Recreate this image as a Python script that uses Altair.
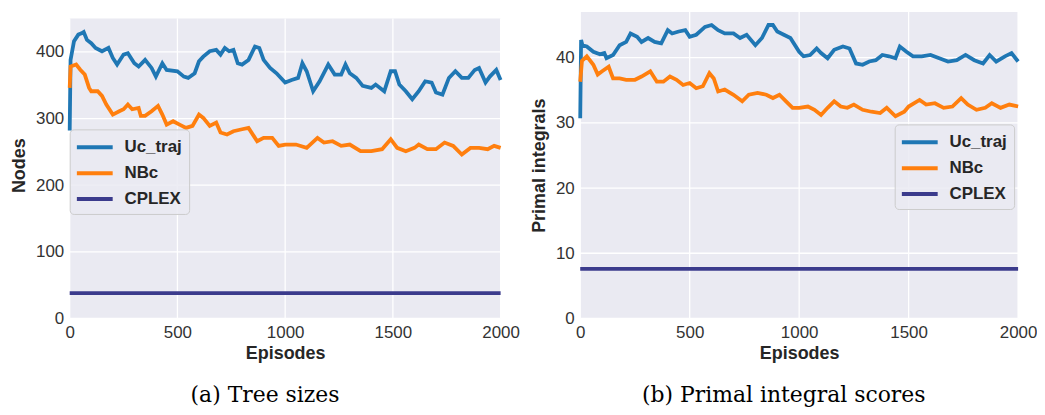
import altair as alt
import pandas as pd

SERIES = ["Uc_traj", "NBc", "CPLEX"]
COLORS = ["#1f77b4", "#ff7f0e", "#3b3b8c"]
X_TICKS = [0, 500, 1000, 1500, 2000]
X_MAX = 2000
NODES_TICKS = [0, 100, 200, 300, 400]
PRIMAL_TICKS = [0, 10, 20, 30, 40]

# ---- (a) Tree sizes ----
uc_nodes_ep = [0, 4, 20, 40, 55, 65, 80, 100, 120, 150, 180, 200, 220, 250, 270, 300, 320, 350, 380, 400,
               430, 450, 500, 530, 550, 580, 600, 620, 650, 680, 700, 720, 740, 760, 780, 800, 830, 860, 880,
               900, 930, 960, 1000, 1030, 1060, 1080, 1100, 1130, 1160, 1200, 1230, 1260, 1280, 1300, 1330,
               1360, 1400, 1420, 1460, 1490, 1510, 1530, 1560, 1590, 1620, 1650, 1680, 1700, 1730, 1760, 1790,
               1820, 1850, 1880, 1900, 1930, 1950, 1980, 2000]
uc_nodes_val = [282, 388, 416, 426, 428, 430, 418, 413, 406, 401, 406, 391, 381, 396, 398, 383, 378, 388, 376, 363,
                383, 373, 371, 363, 361, 368, 386, 393, 401, 403, 396, 406, 401, 403, 383, 381, 388, 408, 406,
                388, 376, 368, 354, 358, 361, 383, 371, 341, 356, 381, 366, 366, 381, 368, 361,
                349, 346, 351, 341, 371, 371, 351, 341, 329, 341, 356, 354, 339, 336, 361, 371,
                361, 361, 373, 376, 354, 363, 373, 358]

nbc_nodes_ep = [0, 4, 30, 50, 70, 90, 100, 130, 150, 170, 200, 230, 250, 270, 290, 320, 330, 350, 380, 410,
                430, 450, 480, 510, 540, 570, 600, 620, 650, 680, 700, 730, 760, 800, 830, 870, 900, 940, 970,
                1000, 1050, 1100, 1150, 1180, 1220, 1260, 1300, 1350, 1400, 1450, 1490, 1520, 1560, 1600, 1620,
                1660, 1700, 1740, 1780, 1820, 1860, 1900, 1940, 1970, 2000]
nbc_nodes_val = [346, 378, 381, 373, 366, 346, 341, 341, 334, 321, 306, 311, 314, 321, 314, 316, 304, 304, 311, 319,
                 306, 291, 296, 291, 286, 289, 306, 301, 289, 294, 279, 276, 281, 284, 286, 266, 271, 271, 259,
                 261, 261, 256, 271, 264, 266, 259, 261, 251, 251, 254, 269, 256, 251, 256, 261,
                 254, 254, 264, 259, 246, 256, 256, 254, 259, 256]

cplex_nodes_ep = [0, 2000]
cplex_nodes_val = [38, 38]

# ---- (b) Primal integral scores ----
uc_primal_ep = [0, 4, 10, 30, 60, 90, 110, 120, 150, 180, 210, 230, 260, 280, 310, 340, 370, 400, 420, 450,
                480, 500, 530, 570, 600, 630, 660, 700, 730, 760, 800, 830, 860, 880, 900, 930, 960, 1000,
                1020, 1050, 1080, 1100, 1130, 1160, 1200, 1230, 1260, 1290, 1320, 1350, 1380, 1410, 1440,
                1460, 1490, 1520, 1560, 1600, 1640, 1680, 1720, 1760, 1800, 1840, 1870, 1900, 1940, 1970, 2000]
uc_primal_val = [30.7, 42.7, 41.9, 41.7, 40.9, 40.5, 40.7, 39.9, 40.4, 41.9, 42.4, 43.7, 43.2, 42.4, 43.0, 42.4,
                 42.2, 44.2, 43.7, 44.0, 44.2, 43.2, 43.5, 44.7, 45.0, 44.2, 43.7, 43.7, 43.0, 43.5, 41.9, 43.0,
                 45.0, 45.0, 44.0, 43.5, 43.0, 40.9, 40.2, 40.4, 41.4, 40.7, 39.9, 41.2, 41.7, 41.4, 39.1,
                 38.9, 39.4, 39.6, 40.4, 40.2, 39.9, 41.7, 40.9, 40.2, 40.2, 40.4, 39.9, 39.4, 39.6, 40.4,
                 39.6, 39.1, 40.4, 39.4, 40.2, 40.7, 39.4]

nbc_primal_ep = [0, 8, 30, 60, 80, 100, 130, 150, 180, 210, 250, 280, 320, 350, 380, 410, 440, 470, 500, 530,
                 560, 590, 610, 630, 660, 700, 740, 770, 810, 850, 880, 910, 940, 970, 1000, 1040, 1070, 1100,
                 1130, 1160, 1190, 1220, 1250, 1290, 1330, 1370, 1400, 1440, 1480, 1500, 1550, 1580, 1620,
                 1660, 1700, 1740, 1770, 1810, 1850, 1880, 1920, 1960, 2000]
nbc_primal_val = [36.3, 39.5, 40.2, 38.9, 37.4, 37.9, 38.6, 36.8, 36.8, 36.6, 36.6, 37.1, 37.9, 36.3, 36.3, 37.1,
                  36.6, 35.8, 36.1, 35.3, 35.6, 37.6, 36.8, 34.8, 35.1, 34.3, 33.3, 34.3, 34.6, 34.3, 33.8, 34.3,
                  33.3, 32.3, 32.3, 32.5, 32.0, 31.2, 32.3, 33.3, 32.5, 32.3, 32.8, 32.0, 31.7, 31.5, 32.3,
                  31.0, 31.7, 32.5, 33.5, 32.8, 33.0, 32.3, 32.5, 33.8, 32.8, 32.0, 32.3, 33.0, 32.3, 32.8, 32.5]

cplex_primal_ep = [0, 2000]
cplex_primal_val = [7.6, 7.6]

FONT = "Liberation Sans"


def panel(series, y_title, y_ticks, y_max, bg_top, width, height, legend_x, legend_y, caption):
    rows = []
    for name, (eps, vals) in series.items():
        for e, v in zip(eps, vals):
            rows.append({"episode": e, "value": v, "series": name})
    df = pd.DataFrame(rows)

    xscale = alt.Scale(domain=[0, X_MAX], nice=False, zero=False, padding=0)
    yscale = alt.Scale(domain=[0, y_max], nice=False, padding=0)
    xaxis = alt.Axis(title="Episodes", values=X_TICKS, format="d", labelFlush=False)
    yaxis = alt.Axis(title=y_title, values=y_ticks, format="d", labelFlush=False)

    bg = alt.Chart(pd.DataFrame({"episode": [0], "episode2": [X_MAX], "value": [0], "value2": [bg_top]})).mark_rect(
        color="#EAEAF2").encode(
        x=alt.X("episode:Q", scale=xscale, axis=xaxis), x2="episode2:Q",
        y=alt.Y("value:Q", scale=yscale, axis=yaxis), y2="value2:Q")

    vgrid = alt.Chart(pd.DataFrame({"episode": X_TICKS, "value": [0] * len(X_TICKS),
                                    "value2": [bg_top] * len(X_TICKS)})).mark_rule(
        color="white", strokeWidth=1.3).encode(
        x=alt.X("episode:Q", scale=xscale, axis=xaxis),
        y=alt.Y("value:Q", scale=yscale, axis=yaxis), y2="value2:Q")

    hgrid = alt.Chart(pd.DataFrame({"value": y_ticks, "episode": [0] * len(y_ticks),
                                    "episode2": [X_MAX] * len(y_ticks)})).mark_rule(
        color="white", strokeWidth=1.3).encode(
        x=alt.X("episode:Q", scale=xscale, axis=xaxis), x2="episode2:Q",
        y=alt.Y("value:Q", scale=yscale, axis=yaxis))

    lines = alt.Chart(df).mark_line(strokeWidth=3.8).encode(
        x=alt.X("episode:Q", scale=xscale, axis=xaxis),
        y=alt.Y("value:Q", scale=yscale, axis=yaxis),
        color=alt.Color("series:N", scale=alt.Scale(domain=SERIES, range=COLORS),
                        legend=alt.Legend(title=None, orient="none", legendX=legend_x, legendY=legend_y)),
    )

    return alt.layer(bg, vgrid, hgrid, lines).properties(
        width=width, height=height,
        title=alt.TitleParams(caption, orient="bottom", frame="bounds", anchor="middle"),
    )


left = panel({"Uc_traj": (uc_nodes_ep, uc_nodes_val),
              "NBc": (nbc_nodes_ep, nbc_nodes_val),
              "CPLEX": (cplex_nodes_ep, cplex_nodes_val)},
             "Nodes", NODES_TICKS, 460, 450, 433, 308, 0, 118, "(a) Tree sizes")

right = panel({"Uc_traj": (uc_primal_ep, uc_primal_val),
               "NBc": (nbc_primal_ep, nbc_primal_val),
               "CPLEX": (cplex_primal_ep, cplex_primal_val)},
              "Primal integrals", PRIMAL_TICKS, 47, 47, 440, 308, 316, 113, "(b) Primal integral scores")

chart = alt.hconcat(left, right, spacing=11).resolve_scale(color="independent").resolve_legend(
    color="independent").properties(
    padding={"left": 2, "top": 2, "right": 0, "bottom": 0}
).configure_view(strokeWidth=0).configure_axis(
    domain=False, ticks=False, tickSize=0, grid=False,
    labelFont=FONT, labelFontSize=17, labelColor="#333333", labelPadding=6,
    titleFont=FONT, titleFontSize=18, titleFontWeight="bold", titleColor="#262626",
).configure_axisX(titlePadding=4, labelOverlap=False).configure_axisY(titlePadding=7, labelOverlap=False).configure_legend(
    symbolType="M-1.2,0L2.8,0", symbolSize=324, symbolStrokeWidth=4,
    labelFont=FONT, labelFontSize=17, labelFontWeight="bold", labelColor="#262626",
    labelOffset=26, padding=7, rowPadding=7,
    fillColor="rgba(234,234,242,0.85)", strokeColor="#cccccc", cornerRadius=4,
).configure_title(
    font="DejaVu Serif", fontSize=22, fontWeight="normal", color="#000000", offset=23,
)

chart.save("out.html", embed_options={"renderer": "svg", "actions": False})
